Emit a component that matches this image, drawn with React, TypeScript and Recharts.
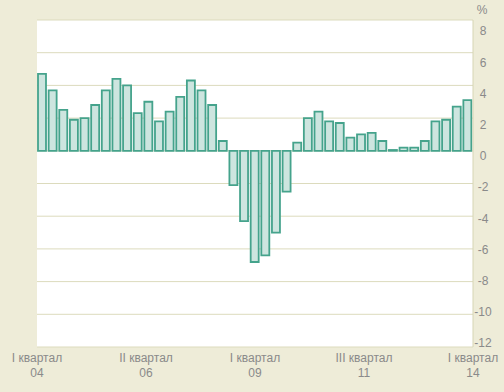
import React from 'react';
import { ComposedChart, Bar, XAxis, YAxis, CartesianGrid } from 'recharts';

const quarters: string[] = [
  '2004Q1','2004Q2','2004Q3','2004Q4',
  '2005Q1','2005Q2','2005Q3','2005Q4',
  '2006Q1','2006Q2','2006Q3','2006Q4',
  '2007Q1','2007Q2','2007Q3','2007Q4',
  '2008Q1','2008Q2','2008Q3','2008Q4',
  '2009Q1','2009Q2','2009Q3','2009Q4',
  '2010Q1','2010Q2','2010Q3','2010Q4',
  '2011Q1','2011Q2','2011Q3','2011Q4',
  '2012Q1','2012Q2','2012Q3','2012Q4',
  '2013Q1','2013Q2','2013Q3','2013Q4',
  '2014Q1',
];

const growth: number[] = [
  4.7, 3.7, 2.5, 1.9, 2.0, 2.8, 3.7, 4.4,
  4.0, 2.3, 3.0, 1.8, 2.4, 3.3, 4.3, 3.7,
  2.8, 0.6, -2.1, -4.3, -6.8, -6.4, -5.0, -2.5,
  0.5, 2.0, 2.4, 1.8, 1.7, 0.8, 1.0, 1.1,
  0.6, 0.05, 0.2, 0.2, 0.6, 1.8, 1.9, 2.7,
  3.1,
];

const yTicks: number[] = [-12, -10, -8, -6, -4, -2, 0, 2, 4, 6, 8];
const xLabelTop: string[] = ['I квартал', 'II квартал', 'I квартал', 'III квартал', 'I квартал'];
const xLabelBottom: string[] = ['04', '06', '09', '11', '14'];
const xLabelPos: number[] = [0, 10, 20, 30, 40];

const data = quarters.map((q, i) => ({ q, v: growth[i] }));

const FONT = '"Liberation Sans", Arial, sans-serif';
const TEXT = '#8a8a8a';

const YTick = (props: any) => {
  const { x, y, payload } = props;
  const v = payload.value as number;
  const off = -4 + (v + 12) * 0.75;
  return (
    <g>
      <text x={x + 2} y={y + off + 4.3} textAnchor="middle" fontSize={12} fontFamily={FONT} fill={TEXT}>
        {v}
      </text>
      {v === 8 && (
        <text x={x + 1} y={y - 10 + 4.3} textAnchor="middle" fontSize={12} fontFamily={FONT} fill={TEXT}>
          %
        </text>
      )}
    </g>
  );
};

const XTick = (props: any) => {
  const { x, payload } = props;
  const i = xLabelPos.indexOf(payload.value);
  if (i < 0) return null;
  return (
    <g>
      <text x={x} y={362} textAnchor="middle" fontSize={12} fontFamily={FONT} fill={TEXT}>
        {xLabelTop[i]}
      </text>
      <text x={x} y={377} textAnchor="middle" fontSize={12} fontFamily={FONT} fill={TEXT}>
        {xLabelBottom[i]}
      </text>
    </g>
  );
};

export default function App() {
  return (
    <div style={{ position: 'absolute', left: 0, top: 0, width: 504, height: 392, background: '#eeecd8' }}>
      <ComposedChart width={504} height={392} data={data} margin={{ top: 20, right: 0, bottom: 0, left: 37 }}>
        <CartesianGrid vertical={false} stroke="#dcdbbd" fill="#ffffff" />
        <XAxis dataKey="q" hide />
        <XAxis
          xAxisId="lbl"
          type="number"
          domain={[0, 40]}
          ticks={xLabelPos}
          allowDataOverflow
          axisLine={false}
          tickLine={false}
          height={45}
          tick={<XTick />}
          interval={0}
        />
        <YAxis
          orientation="right"
          domain={[-12, 8]}
          ticks={yTicks}
          interval={0}
          width={31}
          axisLine={{ stroke: '#d6d5b4' }}
          tickLine={false}
          tick={<YTick />}
        />
        <Bar dataKey="v" barSize={8} fill="#cde5df" stroke="#45a38c" strokeWidth={1.8} isAnimationActive={false} />
      </ComposedChart>
    </div>
  );
}
